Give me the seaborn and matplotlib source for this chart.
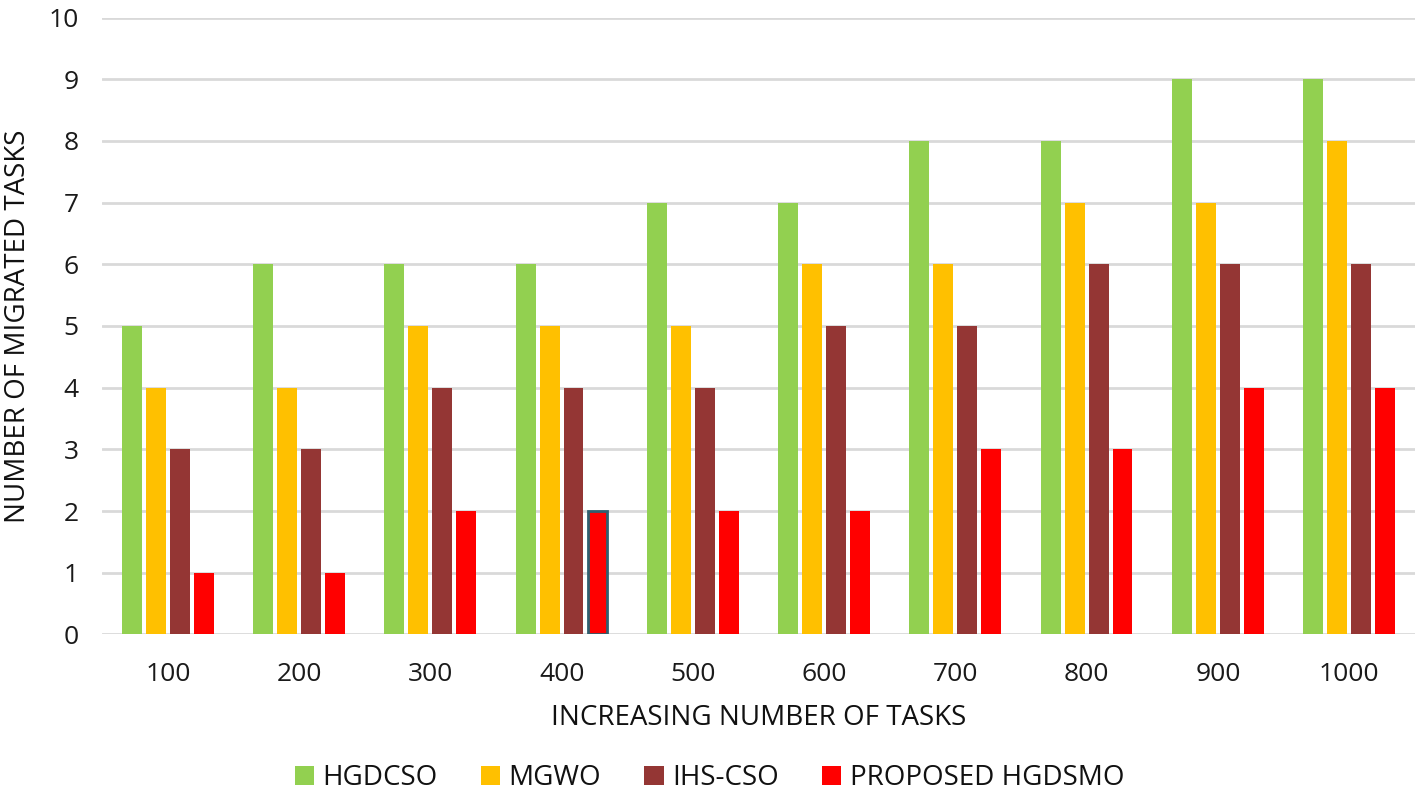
import seaborn as sns
import matplotlib.pyplot as plt
import pandas as pd

tasks = ['100', '200', '300', '400', '500', '600', '700', '800', '900', '1000']
hgdcso = [5, 6, 6, 6, 7, 7, 8, 8, 9, 9]
mgwo = [4, 4, 5, 5, 5, 6, 6, 7, 7, 8]
ihs_cso = [3, 3, 4, 4, 4, 5, 5, 6, 6, 6]
proposed = [1, 1, 2, 2, 2, 2, 3, 3, 4, 4]
methods = ['HGDCSO', 'MGWO', 'IHS-CSO', 'PROPOSED HGDSMO']
colors = ['#92D050', '#FFC000', '#943634', '#FF0000']

df = pd.DataFrame({'tasks': tasks * 4,
                   'value': hgdcso + mgwo + ihs_cso + proposed,
                   'method': [m for m in methods for _ in tasks]})

sns.set_style('white')
plt.rcParams['font.family'] = ['Open Sans', 'DejaVu Sans']

fig = plt.figure(figsize=(14.19, 7.99), dpi=100)
ax = fig.add_axes([0.072, 0.206, 0.925, 0.772])
sns.barplot(data=df, x='tasks', y='value', hue='method', palette=colors,
            width=0.73, gap=0.17, saturation=1, linewidth=0, ax=ax, zorder=3)

# the one outlined bar (400, proposed)
red_bars = ax.containers[3]
red_bars[3].set_edgecolor('#2F5F6F')
red_bars[3].set_linewidth(2)

ax.set_ylim(0, 10)
ax.set_yticks(range(0, 11))
ax.yaxis.grid(True, color='#D9D9D9', linewidth=2, zorder=0)
ax.set_axisbelow(True)
for s in ax.spines.values():
    s.set_visible(False)
ax.tick_params(axis='both', length=0, labelsize=19, colors='#1a1a1a')
ax.tick_params(axis='y', pad=17)
ax.tick_params(axis='x', pad=20)
ax.set_xlabel('INCREASING NUMBER OF TASKS', fontsize=20, labelpad=12, color='#111111')
ax.set_ylabel('NUMBER OF MIGRATED TASKS', fontsize=20, labelpad=12, color='#111111')

ax.legend(loc='center', bbox_to_anchor=(0.5, 0.026), bbox_transform=fig.transFigure,
          ncol=4, frameon=False, fontsize=20, handlelength=0.7, handleheight=0.7,
          columnspacing=1.55, handletextpad=0.3, labelcolor='#111111')

fig.savefig('out.png', dpi=100)
